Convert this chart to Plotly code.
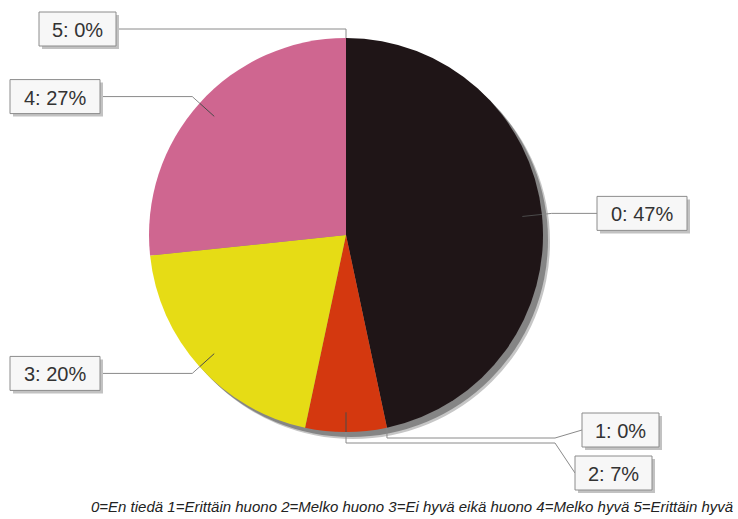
import math
import plotly.graph_objects as go

# Survey answers (respondent counts per rating)
categories = ["0", "1", "2", "3", "4", "5"]
counts = [7, 0, 1, 3, 4, 0]
slice_colors = ["#1f1517", "#7a2a20", "#d4380f", "#e6dc15", "#cf6690", "#8a8a8a"]
footnote = ("0=En tiedä 1=Erittäin huono 2=Melko huono 3=Ei hyvä eikä huono "
            "4=Melko hyvä 5=Erittäin hyvä")

W, H = 738, 519
CX, CY, R = 346, 235, 197          # pie centre and radius in pixels
SHADOW = [(7, "#c6c6c6"), (5, "#858585")]

# Callout placement for each category (pixels)
callouts = {
    "0": dict(route="elbow", edge="left", box_x=597),
    "1": dict(route="drop", r=1.0, drop_y=438, bend_x=555, box_x=582, box_cy=430),
    "2": dict(route="drop", r=0.9, drop_y=443, bend_x=555, box_x=575, box_cy=473),
    "3": dict(route="elbow", edge="right", box_x=100),
    "4": dict(route="elbow", edge="right", box_x=100),
    "5": dict(route="top", box_x=116, box_cy=29),
}
BOX_H = 34
LINE_GREY = "#8a8a8a"
LINE_DARK = "#4a4a4a"


def px(x):
    return x / W


def py(y):
    return 1 - y / H


def on_pie(r, deg):
    a = math.radians(deg)
    return (CX + r * math.sin(a), CY - r * math.cos(a))


total = sum(counts)
fracs = [c / total for c in counts]
texts = [f"{c}: {round(f * 100)}%" for c, f in zip(categories, fracs)]

fig = go.Figure()


def pie_domain(dx=0, dy=0):
    return dict(x=[px(CX + dx - R), px(CX + dx + R)],
                y=[py(CY + dy + R), py(CY + dy - R)])


for off, col in SHADOW:
    fig.add_trace(go.Pie(values=[1], labels=["shadow"], domain=pie_domain(off, off),
                         marker=dict(colors=[col], line=dict(width=0)),
                         textinfo="none", hoverinfo="skip", showlegend=False,
                         sort=False))

fig.add_trace(go.Pie(values=counts, labels=categories, domain=pie_domain(),
                     sort=False, direction="clockwise", rotation=0,
                     marker=dict(colors=slice_colors, line=dict(width=0)),
                     textinfo="none", hoverinfo="skip", showlegend=False))

shapes = []
annotations = []


def seg(p, q, color):
    shapes.append(dict(type="line", xref="paper", yref="paper",
                       x0=px(p[0]), y0=py(p[1]), x1=px(q[0]), y1=py(q[1]),
                       line=dict(color=color, width=1)))


def box(x0, cy, text):
    w = 13 * len(text) + 12
    x1 = x0 + w
    y0, y1 = cy - BOX_H / 2, cy + BOX_H / 2
    shapes.append(dict(type="rect", xref="paper", yref="paper",
                       x0=px(x0 + 3), x1=px(x1 + 3), y0=py(y0 + 3), y1=py(y1 + 3),
                       fillcolor="#c2c2c2", line=dict(width=0)))
    shapes.append(dict(type="rect", xref="paper", yref="paper",
                       x0=px(x0), x1=px(x1), y0=py(y0), y1=py(y1),
                       fillcolor="#f7f7f7", line=dict(color="#8c8c8c", width=1)))
    annotations.append(dict(xref="paper", yref="paper", x=px((x0 + x1) / 2),
                            y=py(cy + 1), text=text, showarrow=False,
                            xanchor="center", yanchor="middle",
                            font=dict(family="Liberation Sans, Arial, sans-serif",
                                      size=20, color="#333333")))


start = 0.0
for cat, f, text in zip(categories, fracs, texts):
    a0 = start * 360
    mid = (start + f / 2) * 360
    start += f
    c = callouts[cat]
    if c["route"] == "elbow":
        p0, p1, p2 = on_pie(0.9 * R, mid), on_pie(R, mid), on_pie(1.05 * R, mid)
        seg(p0, p1, LINE_DARK)
        seg(p1, p2, LINE_GREY)
        w = 13 * len(text) + 12
        bx = c["box_x"] if c["edge"] == "left" else c["box_x"] - w
        seg(p2, (c["box_x"], p2[1]), LINE_GREY)
        box(bx, p2[1], text)
    elif c["route"] == "drop":
        p0 = on_pie(c["r"] * R, mid)
        if c["r"] < 1:
            p1 = on_pie(R, mid)
            seg(p0, p1, LINE_DARK)
            p0 = p1
        seg(p0, (p0[0], c["drop_y"]), LINE_GREY)
        seg((p0[0], c["drop_y"]), (c["bend_x"], c["drop_y"]), LINE_GREY)
        seg((c["bend_x"], c["drop_y"]), (c["box_x"], c["box_cy"]), LINE_GREY)
        box(c["box_x"], c["box_cy"], text)
    else:
        p0 = on_pie(R, a0 + f * 360)
        seg(p0, (p0[0], c["box_cy"]), LINE_GREY)
        seg((p0[0], c["box_cy"]), (c["box_x"], c["box_cy"]), LINE_GREY)
        w = 13 * len(text) + 12
        box(c["box_x"] - w, c["box_cy"], text)

annotations.append(dict(xref="paper", yref="paper", x=px(735), y=py(506),
                        text=f"<i>{footnote}</i>", showarrow=False,
                        xanchor="right", yanchor="middle",
                        font=dict(family="Liberation Sans, Arial, sans-serif",
                                  size=15, color="#222222")))

fig.update_layout(width=W, height=H, margin=dict(l=0, r=0, t=0, b=0),
                  paper_bgcolor="white", plot_bgcolor="white",
                  shapes=shapes, annotations=annotations, showlegend=False)

fig.write_html("out.html")
